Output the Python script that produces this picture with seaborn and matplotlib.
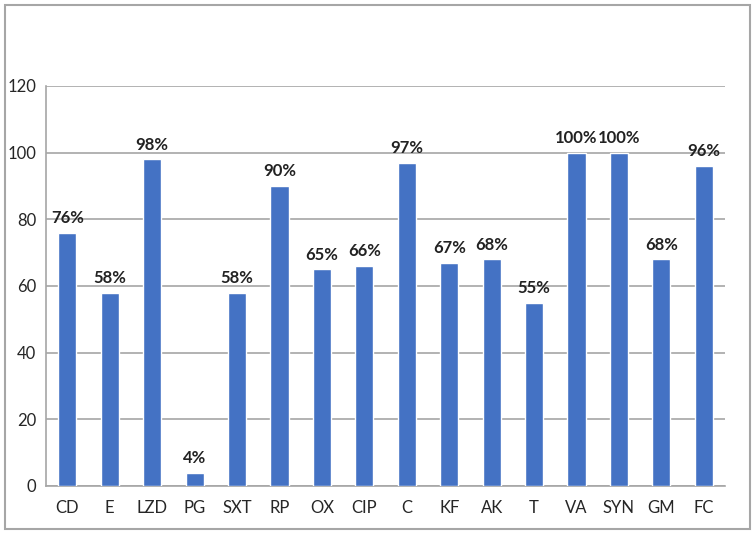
import matplotlib
matplotlib.use("Agg")
import numpy as np
import pandas as pd
import matplotlib.pyplot as plt
import seaborn as sns
from matplotlib.patches import Rectangle

# data
drugs = ["CD", "E", "LZD", "PG", "SXT", "RP", "OX", "CIP", "C", "KF", "AK", "T", "VA", "SYN", "GM", "FC"]
values = [76, 58, 98, 4, 58, 90, 65, 66, 97, 67, 68, 55, 100, 100, 68, 96]
labels = ["76%", "58%", "98%", "4%", "58%", "90%", "65%", "66%", "97%", "67%", "68%", "55%", "100%", "100%", "68%", "96%"]
yticks = [0, 20, 40, 60, 80, 100, 120]

df = pd.DataFrame({"drug": drugs, "value": values})

sns.set_style("white")
plt.rcParams["font.family"] = ["Lato", "DejaVu Sans"]

fig = plt.figure(figsize=(7.56, 5.37), dpi=100)
ax = fig.add_axes([0.061, 0.095, 0.898, 0.745])

sns.barplot(data=df, x="drug", y="value", color="#4472C4", saturation=1,
            width=0.43, ax=ax, zorder=3)

# percentage labels above bars
for i, (v, lab) in enumerate(zip(values, labels)):
    ax.text(i, v + 2, lab, ha="center", va="bottom", fontsize=12,
            fontweight="bold", color="#222222", zorder=4)

ax.set_ylim(0, 120)
ax.set_xlim(-0.5, len(drugs) - 0.5)
ax.set_yticks(yticks)
ax.yaxis.grid(True, color="#a6a6a6", linewidth=1.2, zorder=0)
ax.set_xlabel("")
ax.set_ylabel("")

# excel style ticks between categories
ax.set_xticks(np.arange(-0.5, len(drugs) + 0.5, 1), minor=True)
ax.tick_params(axis="x", which="major", length=0, labelsize=12, pad=10)
ax.tick_params(axis="x", which="minor", length=4, color="#a6a6a6", direction="out")
ax.tick_params(axis="y", length=4, color="#a6a6a6", labelsize=12, pad=3)

for s in ["top", "right"]:
    ax.spines[s].set_visible(False)
for s in ["left", "bottom"]:
    ax.spines[s].set_color("#a6a6a6")
    ax.spines[s].set_linewidth(1.2)

# outer chart frame
fig.patches.append(Rectangle((0.007, 0.014), 0.985, 0.976, transform=fig.transFigure,
                             fill=False, edgecolor="#a6a6a6", linewidth=1.5))

fig.savefig("out.png", dpi=100)
